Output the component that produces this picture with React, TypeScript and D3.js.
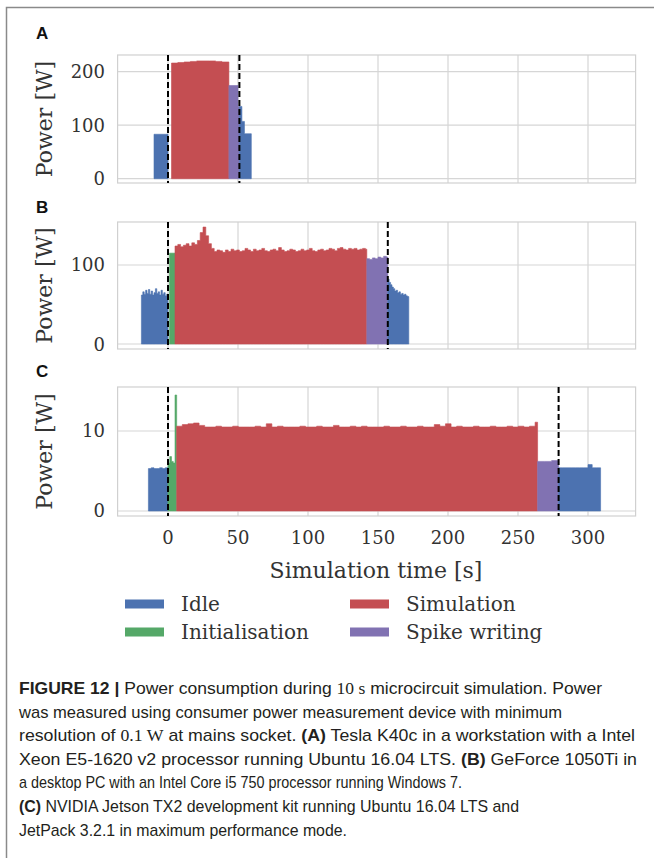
import React, { useEffect, useRef } from 'react';
import * as d3 from 'd3';

// phases and colours (seaborn "deep")
const phaseNames = ['Idle', 'Initialisation', 'Simulation', 'Spike writing'];
const phaseColors = ['#4C72B0', '#55A868', '#C44E52', '#8172B2'];
const panelLabels = ['A', 'B', 'C'];
const xTicks = [0, 50, 100, 150, 200, 250, 300];

// Panel A - Tesla K40c (watts per sample)
const aIdlePreW = [83];
const aSimW = [216, 217, 218, 219, 220, 220, 220, 219, 218];
const aSpikeW = [174, 135];
const aIdlePostW = [135, 107, 84];
const aYTicks = [0, 100, 200];
const aMarkers = [0, 51];

// Panel B - GeForce 1050Ti
const bIdlePreW = [62, 66, 63, 68, 64, 69, 63, 67, 62, 65, 70, 64, 66, 62, 68, 63, 65, 61, 63];
const bInitW = [115];
const bSimW = [
  124, 126, 123, 125, 127, 124, 128, 126,
  131, 141, 148, 137, 127, 121,
  117, 119, 118, 116, 119, 117, 120, 118, 119, 117,
  118, 121, 119, 117, 120, 118, 119, 121, 118, 117,
  119, 120, 118, 122, 119, 117, 118, 120, 119, 117,
  118, 120, 118, 119, 121, 118, 117, 119, 120, 118,
  119, 121, 120, 118, 121, 122, 120, 119, 121, 120,
  121, 119, 120, 121, 120
];
const bSpikeW = [108, 107, 109, 108, 110, 109, 111, 110];
const bIdlePostW = [82, 78, 75, 72, 70, 67, 68, 65, 66, 63, 64, 62, 63, 61, 60];
const bYTicks = [0, 100];
const bMarkers = [0, 157];

// Panel C - Jetson TX2
const cIdlePreW = [5.3, 5.4, 5.3, 5.3, 5.4, 5.3, 5.4];
const cInitW = [6.0, 6.8, 6.2, 6.0, 14.5];
const cSimW = [
  10.6, 10.8, 10.9, 11.0, 10.7, 10.5, 10.5, 10.6, 10.5, 10.5,
  10.6, 10.5, 10.5, 10.5, 10.6, 10.5, 10.9, 10.5, 10.6, 10.5,
  10.5, 10.5, 10.6, 10.5, 10.5, 10.6, 10.5, 10.5, 10.7, 10.5,
  10.5, 10.6, 10.5, 10.6, 10.5, 10.5, 10.5, 10.6, 10.5, 10.5,
  10.6, 10.5, 10.5, 10.6, 10.5, 10.5, 10.8, 10.6, 10.9, 10.5,
  10.6, 10.5, 10.5, 10.6, 10.5, 10.5, 10.6, 10.5, 10.5, 10.6,
  10.5, 10.6, 10.5, 10.6, 11.1
];
const cSpikeW = [6.2, 6.2, 6.3];
const cIdlePostW = [5.4, 5.4, 5.4, 5.4, 5.4, 5.4, 5.4, 5.8, 5.4, 5.4];
const cYTicks = [0, 10];
const cMarkers = [0, 279];

// segment table: [phase, start s, sample step s, end s, watts]
const segmentsA = [
  [0, -10, 10, 0, aIdlePreW],
  [2, 2.5, 4.5, 43.5, aSimW],
  [3, 43.5, 6.5, 51, aSpikeW],
  [0, 51, 1.8, 59.5, aIdlePostW]
];
const segmentsB = [
  [0, -19, 1, 0, bIdlePreW],
  [1, 1, 4, 5, bInitW],
  [2, 5, 2, 142, bSimW],
  [3, 142, 2, 157, bSpikeW],
  [0, 157, 1, 172, bIdlePostW]
];
const segmentsC = [
  [0, -14, 2, 0, cIdlePreW],
  [1, 0, 1.25, 6.2, cInitW],
  [2, 6.2, 4, 264, cSimW],
  [3, 264, 5, 279, cSpikeW],
  [0, 279, 3, 309, cIdlePostW]
];

const captionLines = [
  [['FIGURE 12 |', 'b'], [' Power consumption during ', ''], ['10 s', 's'], [' microcircuit simulation. Power', '']],
  [['was measured using consumer power measurement device with minimum', '']],
  [['resolution of ', ''], ['0.1 W', 's'], [' at mains socket. ', ''], ['(A)', 'b'], [' Tesla K40c in a workstation with a Intel', '']],
  [['Xeon E5-1620 v2 processor running Ubuntu 16.04 LTS. ', ''], ['(B)', 'b'], [' GeForce 1050Ti in', '']],
  [['a desktop PC with an Intel Core i5 750 processor running Windows 7.', '']],
  [['(C)', 'b'], [' NVIDIA Jetson TX2 development kit running Ubuntu 16.04 LTS and', '']],
  [['JetPack 3.2.1 in maximum performance mode.', '']]
];
const captionWidths = [583, 543, 616, 618, 443, 500, 328];

const SERIF = '"DejaVu Serif", serif';
const SANS = '"Liberation Sans", Arial, sans-serif';

const App = () => {
  const svgRef = useRef<SVGSVGElement>(null);
  const width = 654;
  const height = 858;

  useEffect(() => {
    if (!svgRef.current) return;
    const svg = d3.select(svgRef.current);
    svg.selectAll('*').remove();

    // figure frame (left + top edges visible)
    svg.append('path')
      .attr('d', `M${width},7.5 H6.5 V${height}`)
      .attr('fill', 'none')
      .attr('stroke', '#8a8a8a')
      .attr('stroke-width', 1.5);

    const x = d3.scaleLinear().domain([-36, 334]).range([117.6, 635.6]);

    const panels = [
      { segs: segmentsA, yDomain: [-8, 231], yRange: [183, 55], ticks: aYTicks, markers: aMarkers, labelY: 39 },
      { segs: segmentsB, yDomain: [-6.3, 154.4], yRange: [349, 222], ticks: bYTicks, markers: bMarkers, labelY: 213 },
      { segs: segmentsC, yDomain: [-0.625, 15.5], yRange: [516, 387], ticks: cYTicks, markers: cMarkers, labelY: 377 }
    ];

    panels.forEach((p, pi) => {
      const y = d3.scaleLinear().domain(p.yDomain).range(p.yRange);
      const g = svg.append('g');
      const [x0, x1] = x.range();
      const [yb, yt] = p.yRange;

      // grid
      g.selectAll('line.hgrid')
        .data(p.ticks)
        .join('line')
        .attr('x1', x0).attr('x2', x1)
        .attr('y1', d => y(d)).attr('y2', d => y(d))
        .attr('stroke', '#d6d6d6').attr('stroke-width', 1.2);
      g.selectAll('line.vgrid')
        .data(xTicks)
        .join('line')
        .attr('class', 'vgrid')
        .attr('x1', d => x(d)).attr('x2', d => x(d))
        .attr('y1', yt).attr('y2', yb)
        .attr('stroke', '#d6d6d6').attr('stroke-width', 1.2);
      g.append('rect')
        .attr('x', x0).attr('y', yt)
        .attr('width', x1 - x0).attr('height', yb - yt)
        .attr('fill', 'none')
        .attr('stroke', '#d0d0d0').attr('stroke-width', 1.2);

      // power traces
      const area = d3.area<number[]>()
        .x(d => x(d[0]))
        .y0(y(0))
        .y1(d => y(d[1]))
        .curve(d3.curveStepAfter);

      p.segs.forEach(([phase, start, step, end, watts]: any) => {
        const pts = watts
          .map((w, i) => [start + i * step, w])
          .filter(d => d[0] < end);
        pts.push([end, pts[pts.length - 1][1]]);
        g.append('path')
          .attr('d', area(pts))
          .attr('fill', phaseColors[phase])
          .attr('stroke', phaseColors[phase])
          .attr('stroke-width', 0.6);
      });

      // simulation start / end markers
      g.selectAll('line.marker')
        .data(p.markers)
        .join('line')
        .attr('class', 'marker')
        .attr('x1', d => x(d)).attr('x2', d => x(d))
        .attr('y1', yt).attr('y2', yb)
        .attr('stroke', '#000')
        .attr('stroke-width', 2)
        .attr('stroke-dasharray', '6,3');

      // y tick labels
      g.selectAll('text.ytick')
        .data(p.ticks)
        .join('text')
        .attr('class', 'ytick')
        .attr('x', 105)
        .attr('y', d => y(d))
        .attr('dy', '0.36em')
        .attr('text-anchor', 'end')
        .attr('font-family', SERIF)
        .attr('font-size', 18)
        .attr('fill', '#333')
        .text(d => d);

      g.append('text')
        .attr('transform', `translate(52, ${(yt + yb) / 2}) rotate(-90)`)
        .attr('text-anchor', 'middle')
        .attr('font-family', SERIF)
        .attr('font-size', 22)
        .attr('fill', '#333')
        .text('Power [W]');

      svg.append('text')
        .attr('x', 36)
        .attr('y', p.labelY)
        .attr('font-family', SANS)
        .attr('font-weight', 'bold')
        .attr('font-size', 17)
        .attr('fill', '#111')
        .text(panelLabels[pi]);
    });

    // x ticks on bottom panel
    svg.selectAll('text.xtick')
      .data(xTicks)
      .join('text')
      .attr('class', 'xtick')
      .attr('x', d => x(d))
      .attr('y', 544)
      .attr('text-anchor', 'middle')
      .attr('font-family', SERIF)
      .attr('font-size', 18)
      .attr('fill', '#333')
      .text(d => d);

    svg.append('text')
      .attr('x', 376)
      .attr('y', 578)
      .attr('text-anchor', 'middle')
      .attr('font-family', SERIF)
      .attr('font-size', 22)
      .attr('fill', '#333')
      .text('Simulation time [s]');

    // legend, two columns
    const legendCols = [125, 350];
    const legendRows = [604, 632];
    const legendOrder = [0, 1, 2, 3];
    legendOrder.forEach((ph, i) => {
      const lx = legendCols[Math.floor(i / 2)];
      const ly = legendRows[i % 2];
      svg.append('rect')
        .attr('x', lx).attr('y', ly - 4.5)
        .attr('width', 39).attr('height', 9)
        .attr('fill', phaseColors[ph]);
      svg.append('text')
        .attr('x', lx + 56)
        .attr('y', ly)
        .attr('dy', '0.36em')
        .attr('font-family', SERIF)
        .attr('font-size', 20)
        .attr('fill', '#333')
        .text(phaseNames[ph]);
    });

    // caption
    captionLines.forEach((line, li) => {
      const t = svg.append('text')
        .attr('x', 19)
        .attr('y', 694 + li * 23.6)
        .attr('font-family', SANS)
        .attr('font-size', 17)
        .attr('fill', '#231f20')
        .attr('textLength', captionWidths[li])
        .attr('lengthAdjust', 'spacingAndGlyphs');
      line.forEach(([txt, style]) => {
        const ts = t.append('tspan').text(txt);
        if (style === 'b') ts.attr('font-weight', 'bold');
        if (style === 's') ts.attr('font-family', '"Liberation Serif", serif');
      });
    });
  }, []);

  return (
    <svg
      ref={svgRef}
      width={width}
      height={height}
      style={{ position: 'absolute', left: 0, top: 0, background: '#fff' }}
    />
  );
};

export default App;
